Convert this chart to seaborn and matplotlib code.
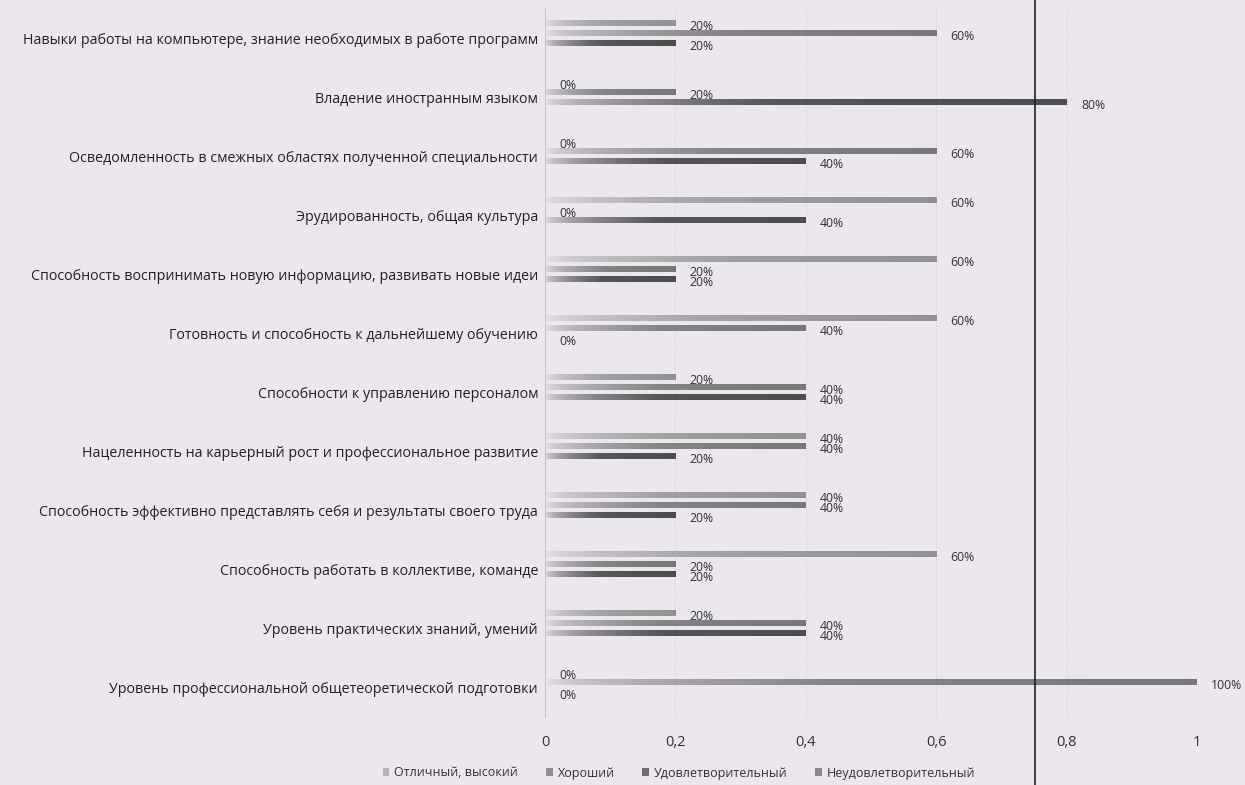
import numpy as np
import pandas as pd
import matplotlib
matplotlib.use("Agg")
import matplotlib.pyplot as plt
from matplotlib.colors import LinearSegmentedColormap, to_rgb
from matplotlib.patches import Patch
from matplotlib.lines import Line2D
from matplotlib.ticker import FuncFormatter
import seaborn as sns

categories = [
    "Навыки работы на компьютере, знание необходимых в работе программ",
    "Владение иностранным языком",
    "Осведомленность в смежных областях полученной специальности",
    "Эрудированность, общая культура",
    "Способность воспринимать новую информацию, развивать новые идеи",
    "Готовность и способность к дальнейшему обучению",
    "Способности к управлению персоналом",
    "Нацеленность на карьерный рост и профессиональное развитие",
    "Способность эффективно представлять себя и результаты своего труда",
    "Способность работать в коллективе, команде",
    "Уровень практических знаний, умений",
    "Уровень профессиональной общетеоретической подготовки",
]
series = ["Отличный, высокий", "Хороший", "Удовлетворительный", "Неудовлетворительный"]
otlichny = [0.2, 0.0, 0.0, 0.6, 0.6, 0.6, 0.2, 0.4, 0.4, 0.6, 0.2, 0.0]
khoroshy = [0.6, 0.2, 0.6, 0.0, 0.2, 0.4, 0.4, 0.4, 0.4, 0.2, 0.4, 1.0]
udovl = [0.2, 0.8, 0.4, 0.4, 0.2, 0.0, 0.4, 0.2, 0.2, 0.2, 0.4, 0.0]
neudovl = [0.0] * 12
x_ticks = [0, 0.2, 0.4, 0.6, 0.8, 1.0]

values = [otlichny, khoroshy, udovl, neudovl]
rows = []
for s, vals in zip(series, values):
    for c, v in zip(categories, vals):
        rows.append({"category": c, "series": s, "value": v})
df = pd.DataFrame(rows)

BG = "#ece6ef"
colors = ["#a2a2a2", "#858585", "#565656", "#7a7a7a"]
legend_colors = ["#b4b4b4", "#8f8f8f", "#6e6e6e", "#888888"]

sns.set_theme(style="white")
plt.rcParams["font.family"] = ["Open Sans", "DejaVu Sans"]

fig = plt.figure(figsize=(12.45, 7.85), dpi=100, facecolor=BG)
ax = fig.add_axes([545 / 1245, 1 - 717 / 785, (1197 - 545) / 1245, (717 - 9) / 785])
ax.set_facecolor(BG)

sns.barplot(data=df, y="category", x="value", hue="series", hue_order=series,
            order=categories, palette=colors, orient="h", width=0.68,
            ax=ax, legend=False, saturation=1)

ax.set_xlim(0, 1)
ylim = ax.get_ylim()

# thin bars with a left-to-right gradient fill
for ci, cont in enumerate(ax.containers):
    col = np.array(to_rgb(colors[ci]))
    bg = np.array(to_rgb(BG))
    cmap = LinearSegmentedColormap.from_list("g", [bg, bg * 0.5 + col * 0.5, col, col * 0.9])
    for rect in cont:
        y0, h = rect.get_y(), rect.get_height()
        newh = h * 0.58
        rect.set_y(y0 + (h - newh) / 2)
        rect.set_height(newh)
        w = rect.get_width()
        if w > 0:
            grad = np.linspace(0, 1, 256)[None, :] ** 0.5
            ax.imshow(grad, extent=[0, w, rect.get_y(), rect.get_y() + newh],
                      aspect="auto", cmap=cmap, zorder=2, interpolation="bilinear")
        rect.set_visible(False)

ax.set_ylim(ylim)
ax.set_xlim(0, 1)

# data labels (last series has no labels)
for ci, cont in enumerate(ax.containers[:3]):
    labels = [f"{v * 100:.0f}%" for v in values[ci]]
    for rect, lab in zip(cont, labels):
        ax.text(rect.get_width() + 0.022, rect.get_y() + rect.get_height() / 2 + 0.05,
                lab, fontsize=8.8, color="#333333", va="center", ha="left",
                clip_on=False, zorder=3)

ax.set_xticks(x_ticks)
ax.xaxis.set_major_formatter(FuncFormatter(lambda v, p: ("%g" % v).replace(".", ",")))
ax.tick_params(axis="x", length=0, pad=13, labelsize=10.5, colors="#333333")
ax.tick_params(axis="y", length=0, pad=5, labelsize=10.3, colors="#222222")
ax.set_xlabel("")
ax.set_ylabel("")
for v in x_ticks[1:]:
    ax.axvline(v, color="#c9c3cc", lw=0.7, ls=(0, (1, 2)), zorder=1)
for side in ["top", "right", "bottom"]:
    ax.spines[side].set_visible(False)
ax.spines["left"].set_color("#c9c3cc")
ax.spines["left"].set_linewidth(0.8)

handles = [Patch(facecolor=c, edgecolor="none") for c in legend_colors]
fig.legend(handles, series, loc="center", bbox_to_anchor=(679 / 1245, 1 - 773 / 785),
           ncol=4, frameon=False, fontsize=9, handlelength=0.55, handleheight=0.55,
           handletextpad=0.4, columnspacing=2.2, labelcolor="#333333")

# dark vertical scan line
fig.add_artist(Line2D([1035 / 1245, 1035 / 1245], [0, 1], transform=fig.transFigure,
                      color="#222222", lw=1.2))

fig.savefig("out.png", dpi=100, facecolor=BG)
